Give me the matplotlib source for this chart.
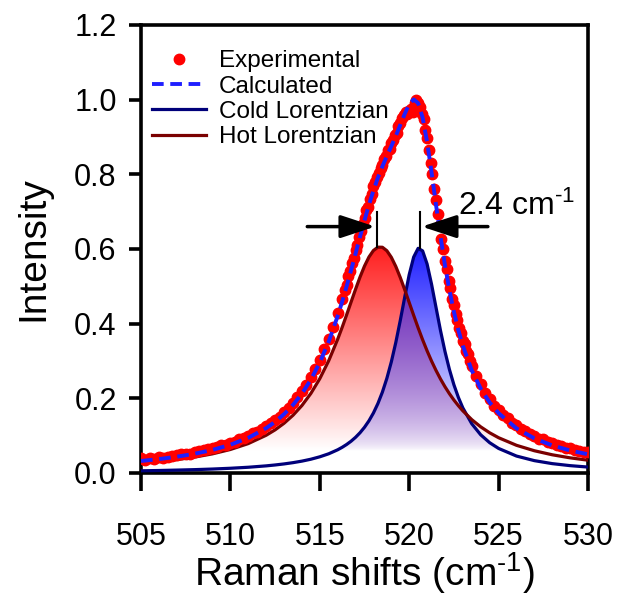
import numpy as np
import matplotlib
matplotlib.use('Agg')
import matplotlib.pyplot as plt
from matplotlib.colors import to_rgb

plt.rcParams['font.family'] = ['Liberation Sans', 'DejaVu Sans']
plt.rcParams['mathtext.default'] = 'regular'

# Fitted Lorentzian components (Raman shift in cm-1, normalised intensity)
x_fit = np.concatenate([np.linspace(505, 512, 8), np.linspace(512.5, 516, 8),
                        np.linspace(516.25, 523, 28), np.linspace(523.5, 525, 4),
                        np.linspace(526, 530, 5)])
hot = [0.0263, 0.0305, 0.0358, 0.0426, 0.0513, 0.0630, 0.0788, 0.1011,
       0.1156, 0.1332, 0.1546, 0.1808, 0.2131, 0.2527, 0.3009, 0.3583,
       0.3901, 0.4236, 0.4580, 0.4922, 0.5249, 0.5543, 0.5786, 0.5960,
       0.6049, 0.6047, 0.5954, 0.5778, 0.5533, 0.5237, 0.4909, 0.4566,
       0.4223, 0.3888, 0.3570, 0.3273, 0.2998, 0.2747, 0.2518, 0.2311,
       0.2124, 0.1955, 0.1803, 0.1665,
       0.1429, 0.1236, 0.1077, 0.0945,
       0.0742, 0.0596, 0.0488, 0.0406, 0.0343]
cold = [0.0059, 0.0067, 0.0078, 0.0090, 0.0106, 0.0127, 0.0154, 0.0191,
        0.0215, 0.0243, 0.0277, 0.0318, 0.0369, 0.0434, 0.0515, 0.0622,
        0.0688, 0.0764, 0.0852, 0.0956, 0.1079, 0.1225, 0.1399, 0.1608,
        0.1861, 0.2166, 0.2535, 0.2976, 0.3495, 0.4084, 0.4711, 0.5312,
        0.5784, 0.6018, 0.5950, 0.5599, 0.5057, 0.4434, 0.3817, 0.3257,
        0.2773, 0.2364, 0.2025, 0.1744,
        0.1319, 0.1023, 0.0812, 0.0658,
        0.0454, 0.0331, 0.0251, 0.0197, 0.0159]
hot_center = 518.2
cold_center = 520.6

# Measured spectrum
x_exp = np.concatenate([np.linspace(505, 516.25, 46), np.linspace(516.4, 523.4, 71),
                        np.linspace(523.5, 530, 27)])
y_exp = [0.040, 0.036, 0.041, 0.038, 0.043, 0.039, 0.044, 0.046, 0.047, 0.050,
         0.052, 0.051, 0.057, 0.058, 0.061, 0.063, 0.066, 0.069, 0.074, 0.076,
         0.081, 0.084, 0.090, 0.094, 0.099, 0.106, 0.111, 0.118, 0.126, 0.133,
         0.143, 0.151, 0.163, 0.175, 0.188, 0.203, 0.219, 0.236, 0.257, 0.279,
         0.303, 0.331, 0.360, 0.392, 0.428, 0.465,
         0.490, 0.503, 0.528, 0.541, 0.562, 0.575,
         0.598, 0.612, 0.633, 0.648, 0.668, 0.682, 0.704, 0.713, 0.735, 0.748,
         0.768, 0.779, 0.793, 0.803, 0.818, 0.826, 0.842, 0.848, 0.865, 0.869,
         0.884, 0.893, 0.906, 0.912, 0.929, 0.937, 0.951, 0.958, 0.966, 0.962,
         0.970, 0.975, 0.968, 0.991, 1.000, 0.992, 0.981, 0.962, 0.947, 0.920,
         0.896, 0.865, 0.831, 0.800, 0.762, 0.731, 0.693, 0.664, 0.628, 0.601,
         0.568, 0.546, 0.514, 0.495, 0.467, 0.450, 0.426, 0.411, 0.388, 0.376,
         0.354, 0.345, 0.326, 0.318, 0.300,
         0.287, 0.259, 0.238, 0.214, 0.199, 0.180, 0.170, 0.155, 0.147, 0.134,
         0.128, 0.117, 0.113, 0.104, 0.100, 0.092, 0.090, 0.083, 0.080, 0.074,
         0.073, 0.067, 0.066, 0.061, 0.060, 0.056, 0.057]

hot = np.array(hot)
cold = np.array(cold)
calc = hot + cold
low = np.minimum(hot, cold)

fig = plt.figure(figsize=(6.19, 6.0), dpi=100)
ax = fig.add_axes([141 / 619, 127 / 600, 447 / 619, 448 / 600])


def gradient_fill(lower, upper, color, gamma=1.0):
    # vertical fade from white near the baseline to full colour at the peaks
    poly = ax.fill_between(x_fit, lower, upper, facecolor='none', edgecolor='none')
    levels = np.linspace(0, 0.62, 256)
    t = np.clip((levels - 0.06) / (0.60 - 0.06), 0, 1) ** gamma
    img = 1 - t[:, None, None] * (1 - np.array(to_rgb(color)))
    im = ax.imshow(img, extent=[505, 530, 0, 0.62], origin='lower',
                   aspect='auto', zorder=1, interpolation='bilinear')
    im.set_clip_path(poly.get_paths()[0], transform=ax.transData)


gradient_fill(low, hot, '#ff2020')
gradient_fill(low, cold, '#2020ff')
gradient_fill(np.zeros_like(low), low, '#5a0fb0', gamma=0.6)

ax.plot(x_fit, cold, color='#00007a', lw=2.3, zorder=3, label='Cold Lorentzian')
ax.plot(x_fit, hot, color='#7a0000', lw=2.3, zorder=3, label='Hot Lorentzian')
ax.plot(x_exp, y_exp, 'o', color='red', ms=7.5, zorder=4, label='Experimental')
ax.plot(x_fit, calc, color='#1f1fff', lw=2.8, dashes=(3, 1.7), zorder=5,
        label='Calculated')

# peak separation marker
top = 0.70
ax.plot([hot_center, hot_center], [hot.max(), top], color='k', lw=1.5, zorder=6)
ax.plot([cold_center, cold_center], [cold.max(), top], color='k', lw=1.5, zorder=6)
arrow = dict(arrowstyle='-|>,head_length=0.85,head_width=0.28', color='k', lw=2.5,
             mutation_scale=25, shrinkA=0, shrinkB=0)
ax.annotate('', xy=(hot_center - 0.1, 0.66), xytext=(514.3, 0.66), arrowprops=arrow, zorder=6)
ax.annotate('', xy=(cold_center + 0.1, 0.66), xytext=(524.4, 0.66), arrowprops=arrow, zorder=6)
gap = cold_center - hot_center
ax.text(522.73, 0.691, f'{gap:.1f} cm' + '$^{\u20101}$', fontsize=23,
        ha='left', va='baseline')

ax.set_xlim(505, 530)
ax.set_ylim(0, 1.2)
ax.set_xticks(np.arange(505, 531, 5))
ax.set_yticks(np.arange(0, 1.21, 0.2))
ax.set_yticklabels([f'{v:.1f}' for v in np.arange(0, 1.21, 0.2)])
for s in ax.spines.values():
    s.set_linewidth(2.6)
ax.tick_params(axis='both', direction='out', width=2.6, labelsize=22, top=False, right=False)
ax.tick_params(axis='x', length=13, pad=22)
ax.tick_params(axis='y', length=8.5, pad=9)
ax.set_xlabel('Raman shifts (cm$^{\u20101}$)', fontsize=28)
ax.set_ylabel('Intensity', fontsize=28)
ax.xaxis.set_label_coords(0.5, -0.172)
ax.yaxis.set_label_coords(-0.20, 0.5)

handles, labels = ax.get_legend_handles_labels()
order = [2, 3, 0, 1]
ax.legend([handles[i] for i in order], [labels[i] for i in order], loc='upper left',
          bbox_to_anchor=(0.025, 0.944), frameon=False, fontsize=17.5, numpoints=1,
          handlelength=2.2, handletextpad=0.55, labelspacing=0.14, borderpad=0,
          borderaxespad=0)

fig.savefig('out.png', dpi=100)
